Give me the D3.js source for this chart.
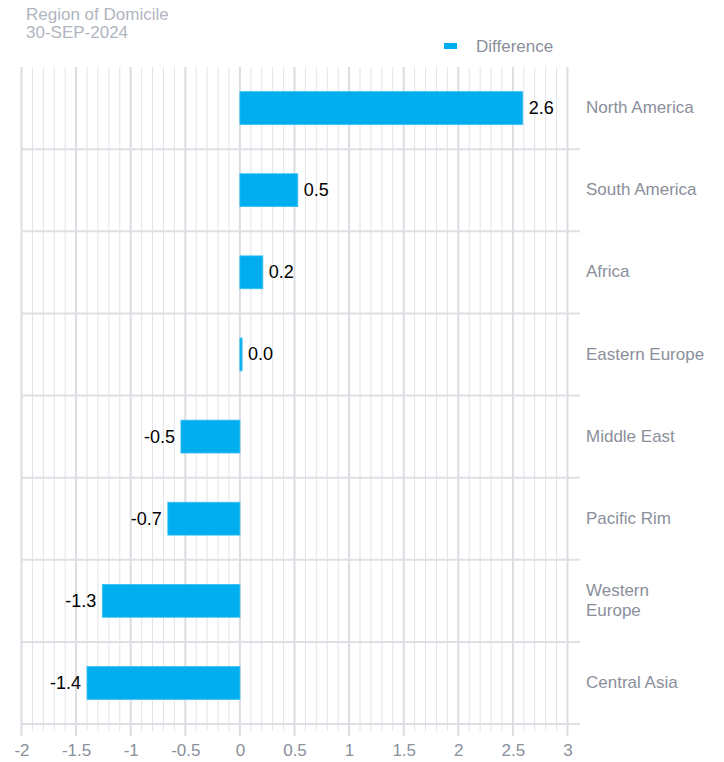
<!DOCTYPE html>
<html>
<head>
<meta charset="utf-8">
<script src="https://cdn.jsdelivr.net/npm/d3@7"></script>
<style>
  body { margin: 0; background: #fff; }
  text { font-family: "Liberation Sans", Arial, sans-serif; }
</style>
</head>
<body>
<svg></svg>
<script>
var regions = ["North America", "South America", "Africa", "Eastern Europe",
               "Middle East", "Pacific Rim", "Western Europe", "Central Asia"];
var difference = [2.59, 0.53, 0.21, 0.02, -0.54, -0.66, -1.26, -1.40];
var majorTicks = [-2, -1.5, -1, -0.5, 0, 0.5, 1, 1.5, 2, 2.5, 3];
var titleLines = ["Region of Domicile", "30-SEP-2024"];
var seriesName = "Difference";

var width = 724;
var height = 762;
var plotLeft = 21.5, plotRight = 567.5, axisEnd = 580;
var plotTop = 67, plotBottom = 724;

var svg = d3.select("svg")
    .attr("width", width)
    .attr("height", height);

var data = regions.map((r, i) => ({ region: r, value: difference[i] }));

var x = d3.scaleLinear().domain([-2, 3]).range([plotLeft, plotRight]);
var y = d3.scaleBand().domain(regions).range([plotTop, plotBottom]);

// minor gridlines every 0.1
var minorTicks = d3.range(-20, 31).map(d => d / 10);
var grid = svg.append("g").classed("grid", true);
grid.selectAll("line.minor")
    .data(minorTicks.filter(d => Math.abs(d * 2 - Math.round(d * 2)) > 1e-6))
    .enter().append("line")
        .attr("class", "minor")
        .attr("x1", d => x(d)).attr("x2", d => x(d))
        .attr("y1", plotTop).attr("y2", plotBottom + 7)
        .attr("stroke", "#e2e3e8")
        .attr("stroke-width", 1);
grid.selectAll("line.major")
    .data(majorTicks)
    .enter().append("line")
        .attr("class", "major")
        .attr("x1", d => x(d)).attr("x2", d => x(d))
        .attr("y1", plotTop).attr("y2", plotBottom + 12)
        .attr("stroke", "#dcdde3")
        .attr("stroke-width", 2);

// horizontal band separators + base line
grid.selectAll("line.band")
    .data(regions.slice(1).concat(["__end"]))
    .enter().append("line")
        .attr("class", "band")
        .attr("x1", plotLeft).attr("x2", axisEnd)
        .attr("y1", d => d === "__end" ? plotBottom : y(d))
        .attr("y2", d => d === "__end" ? plotBottom : y(d))
        .attr("stroke", "#dfe0e5")
        .attr("stroke-width", 2);

// axis labels
var axis = svg.append("g")
    .attr("transform", "translate(0," + plotBottom + ")")
    .call(d3.axisBottom(x)
        .tickValues(majorTicks)
        .tickSize(0)
        .tickPadding(20)
        .tickFormat(d => String(+d.toFixed(1))));
axis.select(".domain").remove();
axis.selectAll("text")
    .attr("fill", "#8a8f9b")
    .style("font-size", "17px")
    .style("font-family", "'Liberation Sans', Arial, sans-serif");

// bars
var barH = y.bandwidth() * 0.4;
svg.append("g").selectAll("rect")
    .data(data)
    .enter().append("rect")
        .attr("x", d => x(Math.min(0, d.value)))
        .attr("width", d => Math.abs(x(d.value) - x(0)))
        .attr("y", d => y(d.region) + (y.bandwidth() - barH) / 2)
        .attr("height", barH)
        .attr("fill", "#00adef")
        .attr("stroke", "#33bff2")
        .attr("stroke-width", 0.8);

// value labels
svg.append("g").selectAll("text")
    .data(data)
    .enter().append("text")
        .attr("x", d => d.value >= 0 ? x(d.value) + 6 : x(d.value) - 6)
        .attr("y", d => y(d.region) + y.bandwidth() / 2)
        .attr("dy", "0.33em")
        .attr("text-anchor", d => d.value >= 0 ? "start" : "end")
        .attr("fill", "#000")
        .style("font-size", "18px")
        .text(d => d.value.toFixed(1));

// category labels on the right, wrapped
var cat = svg.append("g").selectAll("text")
    .data(regions)
    .enter().append("text")
        .attr("x", 586)
        .attr("y", d => y(d) + y.bandwidth() / 2)
        .attr("fill", "#8a8f9b")
        .style("font-size", "17px")
        .text(d => d);
cat.each(function(d) {
    var t = d3.select(this);
    if (this.getComputedTextLength() > 120) {
        var words = d.split(" ");
        t.text(null);
        words.forEach((w, i) => {
            t.append("tspan")
                .attr("x", 586)
                .attr("dy", i === 0 ? (-(words.length - 1) * 0.6 + 0.3) + "em" : "1.2em")
                .text(w);
        });
    } else {
        t.attr("dy", "0.3em");
    }
});

// title
svg.append("g").selectAll("text")
    .data(titleLines)
    .enter().append("text")
        .attr("x", 26)
        .attr("y", (d, i) => 20 + i * 18)
        .attr("fill", "#b0b5bf")
        .style("font-size", "17px")
        .text(d => d);

// legend
var legend = svg.append("g");
legend.append("rect")
    .attr("x", 444).attr("y", 43)
    .attr("width", 13).attr("height", 6)
    .attr("fill", "#00adef");
legend.append("text")
    .attr("x", 476).attr("y", 46)
    .attr("dy", "0.33em")
    .attr("fill", "#8a8f9b")
    .style("font-size", "17px")
    .text(seriesName);
</script>
</body>
</html>
